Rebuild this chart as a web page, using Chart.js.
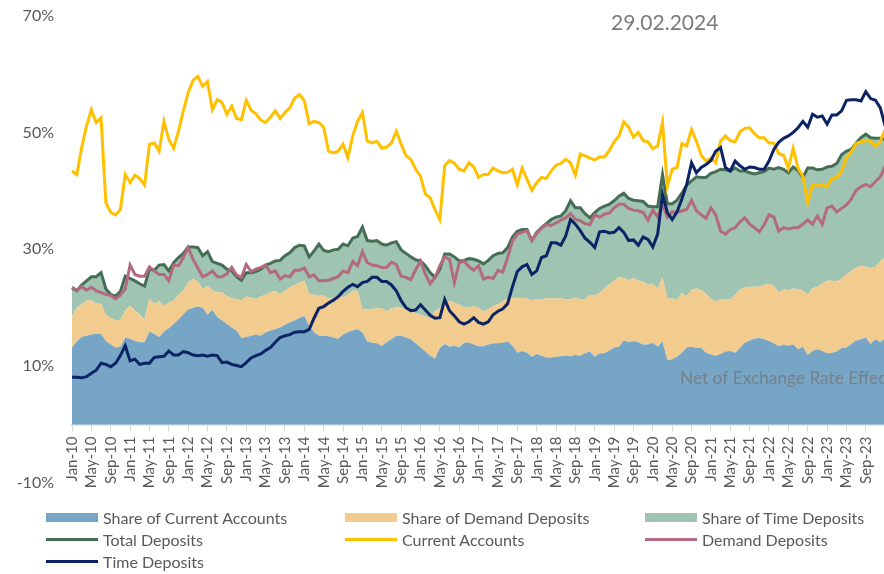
<!DOCTYPE html>
<html>
<head>
<meta charset="utf-8">
<script src="https://cdn.jsdelivr.net/npm/chart.js@4.4.1/dist/chart.umd.min.js"></script>
<style>
  html, body { margin: 0; padding: 0; background: #fff; overflow: hidden; }
  #wrap { position: relative; width: 884px; height: 574px; overflow: hidden; }
  #chart { position: absolute; left: 0; top: -12px; }
  #legend {
    position: absolute; left: 46px; top: 506px;
    display: grid; grid-template-columns: 299px 300px 230px;
    font: 16px Lato, sans-serif; color: #595959;
  }
  .item { display: flex; align-items: center; height: 22px; white-space: nowrap; }
  .sw { width: 52px; margin-right: 5px; }
</style>
</head>
<body>
<div id="wrap">
  <canvas id="chart" width="914" height="586"></canvas>
  <div id="legend"></div>
</div>
<script>
// monthly observations, Jan-10 .. Feb-24
const monthNames = ['Jan', 'Feb', 'Mar', 'Apr', 'May', 'Jun', 'Jul', 'Aug', 'Sep', 'Oct', 'Nov', 'Dec'];
const firstYear = 10;
const monthCount = 170;
const lastLabelled = 164; // Sep-23

// stacked shares (%)
const currentShare = [
  13.2, 14.2, 15.0, 15.2, 15.4, 15.5, 15.5, 14.3, 13.7, 13.2, 13.3, 14.9,
  14.7, 14.3, 14.1, 14.1, 15.9, 15.5, 15.0, 15.9, 16.5, 17.2, 18.0, 18.9,
  19.7, 20.0, 20.2, 20.0, 18.8, 19.6, 18.4, 17.8, 17.2, 16.6, 16.1, 14.8,
  15.0, 15.2, 15.4, 15.2, 15.8, 16.1, 16.3, 16.6, 17.1, 17.5, 17.8, 18.3,
  18.6, 16.9, 15.8, 15.2, 15.2, 15.1, 14.9, 14.7, 15.4, 15.8, 16.1, 16.3,
  15.8, 14.2, 14.0, 13.9, 13.5, 14.1, 14.6, 15.2, 15.2, 14.9, 14.6, 13.9,
  13.2, 12.5, 11.8, 11.3, 13.1, 13.8, 13.3, 13.5, 13.2, 14.0, 14.0, 13.7,
  13.4, 13.4, 13.7, 13.9, 13.9, 14.0, 14.2, 13.5, 12.3, 12.6, 12.3, 11.6,
  12.1, 11.8, 11.5, 11.5, 11.6, 11.7, 11.8, 11.7, 11.9, 11.8, 12.2, 12.5,
  11.6, 12.2, 12.2, 12.7, 13.2, 13.3, 14.4, 14.1, 14.3, 14.1, 13.7, 13.7,
  14.0, 13.3, 14.2, 11.0, 11.2, 11.6, 12.3, 13.2, 13.3, 13.1, 13.1, 12.3,
  12.0, 11.8, 12.1, 12.5, 12.6, 12.3, 13.1, 14.0, 14.4, 14.7, 14.8, 14.6,
  14.3, 13.9, 13.4, 13.7, 13.5, 13.7, 12.9, 13.3, 11.9, 12.6, 12.9, 12.6,
  12.2, 12.3, 12.5, 13.1, 13.2, 13.8, 14.4, 14.6, 14.9, 13.8, 14.6, 14.1,
  14.8, 15.0
];
const demandShare = [
  5.4, 5.8, 5.6, 6.0, 5.9, 5.2, 5.2, 4.5, 4.6, 4.7, 4.6, 4.7,
  5.6, 5.2, 4.8, 3.9, 5.7, 5.2, 6.1, 4.4, 4.4, 4.0, 4.2, 4.0,
  4.6, 4.9, 4.3, 3.2, 4.9, 3.4, 4.2, 4.8, 4.8, 5.0, 5.4, 6.5,
  6.9, 6.5, 6.1, 6.7, 6.4, 6.5, 6.6, 5.7, 5.8, 6.0, 6.1, 6.0,
  6.0, 5.4, 6.4, 6.8, 6.9, 6.5, 6.7, 7.3, 6.3, 6.4, 6.8, 6.6,
  4.0, 5.5, 5.7, 6.1, 6.4, 5.3, 5.3, 4.9, 4.8, 4.8, 4.8, 5.2,
  5.6, 6.0, 6.4, 8.1, 6.8, 6.9, 7.8, 7.4, 7.3, 6.1, 6.0, 6.6,
  6.6, 6.0, 6.0, 6.4, 6.7, 7.1, 7.4, 8.2, 9.3, 9.1, 9.3, 9.7,
  9.4, 9.7, 10.1, 10.1, 10.0, 9.9, 9.6, 9.7, 9.8, 9.7, 9.3, 9.7,
  10.5, 10.3, 11.1, 11.3, 11.4, 12.0, 10.7, 10.6, 10.8, 10.5, 10.8, 10.2,
  10.1, 10.0, 11.0, 10.6, 10.4, 9.8, 10.2, 8.7, 9.8, 10.2, 9.9, 10.1,
  9.5, 9.3, 9.3, 9.0, 8.8, 9.9, 10.0, 9.5, 9.2, 8.9, 8.8, 9.3,
  9.8, 9.8, 9.2, 9.4, 9.5, 9.6, 10.3, 9.6, 10.3, 10.7, 10.7, 11.5,
  12.4, 12.3, 12.0, 11.9, 12.5, 12.5, 12.5, 12.6, 12.1, 13.0, 12.4, 13.9,
  13.9, 14.0
];
const timeShare = [
  4.8, 2.9, 3.3, 3.4, 4.0, 4.6, 5.3, 4.4, 4.0, 4.1, 4.9, 5.8,
  4.7, 5.1, 5.2, 5.7, 5.0, 5.7, 6.2, 7.1, 5.4, 6.5, 6.4, 6.4,
  6.1, 5.5, 5.8, 5.7, 5.9, 4.9, 5.0, 4.7, 4.6, 4.7, 3.8, 3.4,
  4.1, 4.3, 4.7, 4.7, 5.1, 5.0, 5.1, 5.8, 6.0, 5.9, 6.4, 6.4,
  6.0, 6.4, 7.5, 8.9, 7.7, 8.0, 8.3, 8.0, 9.2, 8.4, 9.0, 9.3,
  14.0, 11.8, 11.7, 11.5, 11.0, 11.3, 11.2, 11.2, 9.9, 9.6, 9.3, 9.1,
  9.2, 8.7, 7.8, 5.8, 6.7, 8.5, 8.1, 7.8, 7.5, 8.0, 8.4, 8.0,
  8.0, 8.1, 8.4, 8.6, 8.7, 8.3, 8.7, 10.4, 11.5, 11.7, 11.8, 10.2,
  11.4, 12.2, 12.8, 13.5, 13.9, 14.1, 15.2, 16.9, 15.4, 15.6, 14.6, 13.2,
  14.2, 14.5, 14.1, 13.7, 13.7, 13.8, 14.5, 14.0, 13.3, 13.7, 13.7, 13.5,
  13.2, 14.0, 17.6, 16.2, 16.2, 17.0, 17.1, 19.1, 18.6, 19.1, 19.3, 19.9,
  21.5, 22.2, 22.3, 22.1, 22.0, 21.7, 20.3, 19.9, 19.5, 19.3, 19.5, 19.4,
  19.8, 20.0, 21.4, 20.6, 20.1, 20.8, 20.3, 19.4, 21.7, 20.6, 20.0, 19.6,
  19.5, 19.6, 20.2, 21.2, 21.1, 20.8, 21.3, 21.9, 22.7, 22.3, 22.0, 21.0,
  20.1, 19.8
];

// growth lines (%)
const totalDeposits = [
  23.4, 22.9, 23.9, 24.6, 25.3, 25.3, 26.0, 23.2, 22.3, 22.0, 22.8, 25.4,
  25.0, 24.6, 24.1, 23.7, 26.6, 26.4, 27.3, 27.4, 26.3, 27.7, 28.6, 29.3,
  30.4, 30.4, 30.3, 28.9, 29.6, 27.9, 27.6, 27.3, 26.6, 26.3, 25.3, 24.7,
  26.0, 26.0, 26.2, 26.6, 27.3, 27.6, 28.0, 28.1, 28.9, 29.4, 30.3, 30.7,
  30.6, 28.7, 29.7, 30.9, 29.8, 29.6, 29.9, 30.0, 30.9, 30.6, 31.9, 32.2,
  33.8, 31.5, 31.4, 31.5, 30.9, 30.7, 31.1, 31.3, 29.9, 29.3, 28.7, 28.2,
  28.0, 27.2, 26.0, 25.2, 26.6, 29.2, 29.2, 28.7, 28.0, 28.1, 28.4, 28.3,
  28.0, 27.5, 28.1, 28.9, 29.3, 29.4, 30.3, 32.1, 33.1, 33.4, 33.4, 31.5,
  32.9, 33.7, 34.4, 35.1, 35.5, 35.7, 36.6, 38.3, 37.1, 37.1, 36.1, 35.4,
  36.3, 37.0, 37.4, 37.7, 38.3, 39.1, 39.6, 38.7, 38.4, 38.3, 38.2, 37.4,
  37.3, 37.3, 42.8, 37.8, 37.8, 38.4, 39.6, 41.0, 41.7, 42.4, 42.3, 42.3,
  43.0, 43.3, 43.7, 43.6, 43.4, 43.9, 43.4, 43.4, 43.1, 42.9, 43.1, 43.3,
  43.9, 43.7, 44.0, 43.7, 43.1, 44.1, 43.5, 42.3, 43.9, 43.9, 43.6, 43.7,
  44.1, 44.2, 44.7, 46.2, 46.8, 47.1, 48.2, 49.1, 49.7, 49.1, 49.0, 49.0,
  48.8, 48.8
];
const currentAccounts = [
  43.4, 42.8, 47.4, 51.1, 53.9, 51.7, 52.5, 38.0, 36.3, 35.9, 36.8, 42.8,
  41.4, 42.7, 42.1, 41.0, 48.0, 48.2, 46.8, 51.9, 48.8, 47.3, 50.2, 53.7,
  56.8, 58.9, 59.6, 57.9, 58.7, 53.9, 55.6, 55.1, 53.1, 54.5, 52.4, 52.2,
  55.5, 53.8, 53.2, 52.1, 51.7, 52.6, 53.7, 52.4, 53.4, 54.2, 55.9, 56.5,
  55.4, 51.5, 51.9, 51.7, 50.9, 46.8, 46.5, 46.8, 48.0, 45.7, 49.4, 51.9,
  53.4, 48.5, 48.2, 48.5, 47.3, 47.5, 48.2, 50.2, 48.0, 46.0, 45.4, 43.7,
  42.5, 39.5, 38.8, 36.8, 35.1, 44.3, 45.2, 44.7, 43.7, 43.4, 44.8, 44.1,
  42.3, 42.8, 42.8, 43.9, 43.4, 43.1, 43.2, 43.7, 41.0, 43.9, 42.0, 40.1,
  41.4, 42.3, 42.1, 43.4, 44.4, 44.7, 45.4, 44.8, 42.7, 46.3, 46.0, 45.6,
  45.3, 45.8, 45.8, 46.9, 48.4, 49.4, 51.8, 50.9, 49.2, 50.0, 48.6, 48.4,
  47.2, 47.7, 51.7, 40.8, 43.7, 44.0, 48.1, 47.7, 50.5, 48.5, 46.1, 45.1,
  45.6, 44.8, 48.5, 49.4, 48.6, 48.4, 50.1, 50.7, 50.8, 49.8, 49.1, 49.1,
  48.2, 48.2, 46.4, 46.1, 43.9, 47.3, 43.9, 42.5, 38.0, 41.0, 41.0, 41.0,
  40.7, 42.1, 42.3, 43.4, 45.7, 46.7, 48.1, 48.4, 48.6, 48.5, 47.7, 48.5,
  50.5, 51.4
];
const demandDeposits = [
  23.5, 23.0, 23.6, 23.0, 23.5, 22.9, 22.6, 22.3, 22.1, 21.5, 22.2, 23.2,
  27.3, 25.7, 25.4, 25.4, 27.0, 26.3, 25.7, 25.7, 24.6, 27.3, 27.2, 28.6,
  30.3, 28.3, 26.8, 25.3, 25.7, 26.3, 25.3, 25.3, 25.8, 26.9, 25.6, 25.2,
  27.4, 26.2, 26.6, 26.9, 27.3, 26.0, 26.3, 24.9, 25.5, 25.3, 26.4, 26.4,
  26.8, 25.3, 25.6, 24.6, 24.6, 24.7, 25.0, 25.3, 26.3, 26.0, 27.9, 27.2,
  29.6, 27.7, 27.3, 27.2, 26.9, 26.9, 27.8, 27.4, 25.4, 25.2, 24.8, 26.5,
  28.0, 25.8, 24.1, 25.2, 27.2, 28.7, 28.3, 24.3, 27.7, 28.0, 27.0, 26.4,
  27.2, 24.9, 25.2, 25.0, 26.4, 26.1, 28.6, 31.4, 32.6, 32.9, 33.2, 31.5,
  32.7, 33.6, 34.2, 34.1, 34.5, 35.0, 35.4, 36.1, 35.1, 34.9, 34.4, 34.2,
  35.9, 35.5, 36.0, 36.2, 37.1, 37.7, 37.7, 37.0, 36.7, 36.6, 36.3, 35.0,
  36.7, 35.5, 37.6, 35.5, 36.4, 36.3, 36.6, 36.8, 38.4, 36.6, 35.9, 35.3,
  37.1, 35.9, 33.1, 32.6, 33.4, 33.7, 34.7, 35.4, 34.3, 33.7, 33.0, 34.2,
  35.9, 35.5, 33.1, 33.7, 33.5, 33.7, 33.7, 34.3, 35.0, 34.3, 35.7, 34.3,
  37.1, 37.4, 36.4, 37.0, 37.6, 38.6, 40.1, 40.7, 41.1, 40.7, 41.6, 42.4,
  44.3, 44.8
];
const timeDeposits = [
  8.1, 8.1, 8.0, 8.2, 8.8, 9.3, 10.5, 10.3, 9.9, 10.5, 11.8, 13.5,
  10.9, 11.2, 10.3, 10.5, 10.5, 11.5, 11.6, 11.7, 12.6, 11.9, 11.9, 12.5,
  12.3, 11.9, 11.8, 11.9, 11.7, 11.9, 11.8, 10.6, 10.7, 10.3, 10.1, 9.9,
  10.6, 11.4, 11.8, 12.1, 12.7, 13.2, 14.1, 14.9, 15.2, 15.4, 15.8, 15.9,
  15.9, 16.3, 18.2, 19.9, 20.2, 20.8, 21.3, 21.9, 22.8, 23.5, 24.0, 23.6,
  24.3, 24.5, 25.2, 25.2, 24.5, 24.5, 23.9, 22.9, 21.2, 20.0, 19.5, 19.6,
  20.5, 19.6, 18.7, 18.2, 18.3, 21.4, 19.5, 18.6, 17.6, 17.2, 17.6, 18.3,
  17.5, 17.2, 17.6, 18.8, 19.4, 19.8, 20.7, 23.6, 26.2, 27.0, 27.4, 25.7,
  26.3, 28.6, 28.9, 31.1, 31.1, 30.7, 32.3, 35.1, 34.3, 33.2, 31.9, 31.2,
  30.3, 33.0, 33.1, 32.8, 32.9, 33.7, 32.9, 31.5, 31.6, 30.7, 32.1, 31.7,
  30.4, 32.6, 39.4, 36.3, 35.1, 36.4, 38.6, 41.1, 44.8, 43.1, 44.0, 44.5,
  45.2, 46.8, 47.4, 44.0, 43.4, 45.1, 44.3, 43.7, 44.1, 44.0, 43.7, 43.7,
  45.1, 47.1, 48.3, 49.0, 49.4, 50.0, 50.8, 51.9, 50.9, 53.1, 52.6, 52.8,
  51.4, 53.0, 53.0, 53.7, 55.5, 55.6, 55.6, 55.4, 57.0, 55.8, 55.5, 54.2,
  51.1, 50.5
];

const yTicks = { min: -10, max: 70, step: 20 };
const dateText = '29.02.2024';
const noteText = 'Net of Exchange Rate Effect';

const labels = [];
for (let i = 0; i < monthCount; i++) {
  const yy = firstYear + Math.floor(i / 12);
  labels.push(monthNames[i % 12] + '-' + String(yy).padStart(2, '0'));
}

const FONT = 'Lato, sans-serif';
const GREY = '#595959';

const area = (label, data, color, fill, order) => ({
  label, data, fill, order,
  type: 'line', stack: 'shares',
  backgroundColor: color, borderColor: color, borderWidth: 0,
  pointRadius: 0, tension: 0, kind: 'area'
});
const line = (label, data, color, order) => ({
  label, data, order,
  type: 'line', stack: label, fill: false,
  borderColor: color, backgroundColor: color, borderWidth: 3,
  pointRadius: 0, tension: 0, kind: 'line'
});

// date stamp and the note inside the blue band (canvas is shifted up 12px)
const overlayText = {
  id: 'overlayText',
  afterDatasetsDraw(chart) {
    const ctx = chart.ctx;
    ctx.save();
    ctx.textBaseline = 'middle';
    ctx.fillStyle = '#76808a';
    ctx.font = '17.3px ' + FONT;
    ctx.fillText(noteText, 680, 390);
    ctx.fillStyle = '#7b7b7b';
    ctx.font = '21px ' + FONT;
    ctx.fillText(dateText, 611, 35);
    ctx.restore();
  }
};

const chart = new Chart(document.getElementById('chart'), {
  type: 'line',
  data: {
    labels: labels,
    datasets: [
      area('Share of Current Accounts', currentShare, '#76a5c6', 'origin', 4),
      area('Share of Demand Deposits', demandShare, '#f2cb8e', '-1', 5),
      area('Share of Time Deposits', timeShare, '#9fc4b1', '-1', 6),
      line('Total Deposits', totalDeposits, '#466e55', 3),
      line('Current Accounts', currentAccounts, '#ffc000', 2),
      line('Demand Deposits', demandDeposits, '#b46a7e', 1),
      line('Time Deposits', timeDeposits, '#0c2466', 0)
    ]
  },
  options: {
    responsive: false,
    animation: false,
    // the x axis sits on the 0% line and takes no layout space
    layout: { autoPadding: false, padding: { top: 15, right: 0, bottom: 91, left: 0 } },
    plugins: { legend: { display: false }, tooltip: { enabled: false } },
    scales: {
      x: {
        position: { y: 0 },
        offset: false,
        grid: {
          drawOnChartArea: false,
          tickLength: 6,
          tickColor: ctx => ctx.index % 4 === 0 ? '#d9d9d9' : 'rgba(0,0,0,0)'
        },
        border: { color: '#d9d9d9', width: 1.5 },
        ticks: {
          autoSkip: false, minRotation: 90, maxRotation: 90, padding: 6,
          color: GREY, font: { family: FONT, size: 15 },
          callback: (v, i) => (i % 4 === 0 && i <= lastLabelled) ? labels[i] : ''
        }
      },
      y: {
        stacked: true,
        min: yTicks.min, max: yTicks.max,
        grid: { display: false, drawTicks: false },
        border: { display: false },
        ticks: {
          stepSize: yTicks.step, padding: 18,
          color: GREY, font: { family: FONT, size: 16 },
          callback: v => v + '%'
        },
        afterFit: s => { s.width = 72; }
      }
    }
  },
  plugins: [overlayText]
});

// legend in three columns, built from the datasets
const legend = document.getElementById('legend');
chart.data.datasets.forEach(ds => {
  const item = document.createElement('div');
  item.className = 'item';
  const sw = document.createElement('span');
  sw.className = 'sw';
  sw.style.background = ds.kind === 'area' ? ds.backgroundColor : ds.borderColor;
  sw.style.height = ds.kind === 'area' ? '9px' : '3px';
  item.appendChild(sw);
  item.appendChild(document.createTextNode(ds.label));
  legend.appendChild(item);
});
</script>
</body>
</html>
